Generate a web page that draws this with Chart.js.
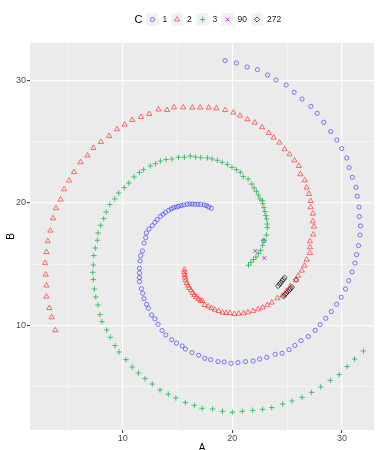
<!DOCTYPE html>
<html><head><meta charset="utf-8">
<script src="https://cdn.jsdelivr.net/npm/chart.js@4"></script>
<style>html,body{margin:0;padding:0;background:#fff;}canvas{display:block}</style>
</head><body>
<canvas id="c" width="379" height="450" style="width:379px;height:450px"></canvas>
<script>
// ---- data ----
const groupNames = ["1", "2", "3", "90", "272"];
const xTicks = [5, 10, 15, 20, 25, 30];
const yTicks = [5, 10, 15, 20, 25, 30];

const s1A = [19.34,20.36,21.35,22.28,23.21,23.99,24.91,25.63,26.35,27.16,27.73,28.33,28.96,29.52,29.97,30.42,30.64,30.93,31.27,31.38,31.54,31.56,31.68,31.63,
31.5,31.32,31.17,30.91,30.6,30.31,29.92,29.5,29.02,28.51,28.0,27.55,26.92,26.26,25.7,25.16,24.53,23.9,23.14,22.49,21.89,21.2,20.51,19.88,19.25,18.69,18.02,17.48,
16.92,16.32,15.72,15.42,14.91,14.47,13.93,13.59,13.23,12.94,12.63,12.34,12.18,11.95,11.82,11.71,11.53,11.53,11.53,11.53,11.59,11.64,11.8,11.95,12.1,
12.16,12.4,12.7,12.94,13.14,13.44,13.68,13.89,14.19,14.43,14.64,14.88,15.09,15.33,15.57,15.87,16.11,16.35,16.59,16.86,17.1,17.43,17.64,17.84,18.09,22.87];
const s1B = [31.64,31.45,31.12,30.9,30.47,30.06,29.65,29.05,28.5,27.9,27.33,26.6,25.84,25.15,24.45,23.68,22.89,22.1,21.28,20.55,19.67,18.89,18.12,17.38,
16.52,15.78,15.09,14.36,13.65,12.97,12.29,11.72,11.12,10.57,10.06,9.59,9.08,8.75,8.36,8.01,7.71,7.63,7.38,7.24,7.08,7.03,6.95,6.89,7.0,7.03,7.19,7.3,
7.55,7.77,8.06,8.31,8.55,8.83,9.21,9.57,10.08,10.52,10.84,11.39,11.72,12.18,12.62,13.0,13.57,13.9,14.28,14.66,15.26,15.7,16.08,16.73,17.17,
17.55,17.87,18.15,18.42,18.64,18.91,19.08,19.24,19.4,19.51,19.62,19.67,19.73,19.79,19.84,19.89,19.92,19.92,19.89,19.89,19.89,19.84,19.79,19.67,19.57,16.9];

const s2A = [3.86,3.53,3.32,3.05,3.05,2.99,2.93,3.05,3.17,
3.41,3.65,3.92,4.34,4.67,5.12,5.57,6.16,6.79,7.33,8.02,8.77,9.49,10.18,10.87,11.68,12.43,13.26,14.04,14.67,15.51,16.35,17.07,
17.84,18.54,19.34,20.09,20.69,21.38,22.04,22.7,23.32,23.77,24.29,24.76,25.21,25.66,26.06,26.2,26.59,26.77,26.98,27.13,27.13,27.34,27.34,27.43,27.37,
27.07,27.07,27.07,26.77,26.56,26.33,25.99,25.79,25.27,24.93,24.58,24.11,23.59,23.18,22.76,22.34,21.89,21.41,21.02,20.58,20.18,19.77,19.43,19.1,18.74,18.38,18.09,17.79,17.48,17.25,
17.1,16.89,16.71,16.53,16.38,16.23,16.08,15.96,15.84,15.75,15.69,15.66,15.63,15.63];
const s2B = [9.59,10.65,11.41,12.35,13.25,14.15,15.09,15.99,16.87,
17.74,18.75,19.57,20.28,21.12,21.83,22.53,23.33,23.88,24.5,24.99,25.48,26.03,26.41,26.79,27.03,27.28,27.64,27.6,27.82,27.82,27.8,27.8,
27.8,27.74,27.6,27.39,27.14,26.84,26.57,26.19,25.72,25.35,24.94,24.39,23.98,23.49,23.03,22.35,21.86,21.26,20.74,20.16,19.65,19.13,18.5,18.07,17.42,
16.87,16.38,15.91,15.37,14.88,14.47,14.06,13.68,13.19,12.8,12.43,12.21,11.86,11.64,11.45,11.31,11.17,11.06,10.98,10.96,10.92,11.01,11.01,11.04,11.17,11.28,11.41,11.55,11.66,11.99,
12.02,12.15,12.31,12.48,12.64,12.86,13.05,13.25,13.46,13.68,13.9,14.11,14.33,14.55];

const s3A = [31.95,31.14,30.46,29.74,28.93,28.06,27.22,26.35,25.43,24.58,23.59,22.76,21.86,20.9,20.0,19.1,18.2,
17.25,16.53,15.72,14.85,14.16,13.41,12.7,12.04,11.44,10.87,10.3,9.67,9.31,8.86,8.54,8.11,7.93,7.75,7.55,7.42,7.33,7.28,7.33,7.37,7.51,7.69,
7.76,8.0,8.27,8.5,8.83,9.28,9.64,10.15,10.57,11.05,11.53,11.91,12.52,12.99,13.44,13.95,14.49,15.09,15.63,16.17,16.65,17.12,
17.73,18.15,18.63,19.07,19.55,19.97,20.36,20.72,20.99,21.44,21.77,21.98,22.19,22.37,22.52,22.73,22.76,22.88,22.96,23.05,23.12,23.18,23.18,23.12,
22.88,22.76,22.58,22.37,22.16,21.92,21.68,21.47];
const s3B = [7.9,7.24,6.62,5.97,5.5,4.96,4.52,4.11,3.81,3.57,3.27,3.13,3.05,2.97,2.89,2.97,3.16,
3.21,3.46,3.68,4.06,4.36,4.71,5.2,5.64,6.1,6.59,7.19,7.82,8.34,9.02,9.62,10.3,10.87,11.66,12.31,12.97,13.74,14.33,14.93,15.7,16.32,16.95,
17.55,18.18,18.72,19.26,19.87,20.33,20.82,21.26,21.64,22.13,22.49,22.73,23.03,23.22,23.43,23.55,23.6,23.74,23.74,23.84,23.76,23.71,
23.68,23.6,23.49,23.33,23.16,22.92,22.73,22.51,22.16,21.96,21.55,21.23,20.96,20.65,20.33,20.2,19.95,19.62,19.3,18.97,18.69,18.28,17.99,17.38,
16.95,16.54,16.13,15.86,15.58,15.37,15.15,14.91];

const s90A = [22.1, 22.91];
const s90B = [16.08, 15.5];

const s272A = [24.17,24.3,24.42,24.53,24.65,24.76,24.67,24.79,24.92,25.06,25.18,25.31,25.43,25.81];
const s272B = [13.21,13.36,13.48,13.63,13.75,13.9,12.37,12.5,12.63,12.75,12.88,13.0,13.13,13.74];

// ---- styles ----
const seriesA = [s1A, s2A, s3A, s90A, s272A];
const seriesB = [s1B, s2B, s3B, s90B, s272B];
const colors = ['rgba(50,50,255,0.62)', 'rgba(255,30,30,0.62)', 'rgba(0,175,60,0.68)', 'rgba(200,0,230,0.8)', 'rgba(0,0,0,0.65)'];
const shapes = ['circle', 'triangle', 'cross', 'crossRot', 'rectRot'];
const radii = [2.1, 3.0, 2.8, 2.6, 2.6];

function zip(a, b) { return a.map((v, i) => ({ x: v, y: b[i] })); }

const datasets = groupNames.map((name, i) => ({
  label: name,
  data: zip(seriesA[i], seriesB[i]),
  pointStyle: shapes[i],
  pointRadius: radii[i],
  pointBorderColor: colors[i],
  pointBackgroundColor: 'rgba(0,0,0,0)',
  pointBorderWidth: 1,
  showLine: false
}));

const FONT = "'Liberation Sans', Arial, sans-serif";

const panelBg = {
  id: 'panelBg',
  beforeDraw(chart) {
    const { ctx, chartArea: a } = chart;
    ctx.save();
    ctx.fillStyle = '#EBEBEB';
    ctx.fillRect(a.left, a.top, a.right - a.left, a.bottom - a.top);
    ctx.restore();
  }
};

const legendPlugin = {
  id: 'ggLegend',
  afterDraw(chart) {
    const ctx = chart.ctx;
    ctx.save();
    ctx.textBaseline = 'middle';
    ctx.fillStyle = '#000';
    ctx.font = '11px ' + FONT;
    ctx.textAlign = 'center';
    const cy = 19.5;
    ctx.fillText('C', 138.5, cy);
    const keyX = [146.5, 171, 196.5, 221.5, 251];
    ctx.font = '8.5px ' + FONT;
    groupNames.forEach((name, i) => {
      const kx = keyX[i];
      ctx.fillStyle = '#F2F2F2';
      ctx.fillRect(kx, 13, 12, 13);
      ctx.strokeStyle = colors[i];
      ctx.fillStyle = 'rgba(0,0,0,0)';
      ctx.lineWidth = 1;
      Chart.helpers.drawPoint(ctx, { pointStyle: shapes[i], radius: radii[i], rotation: 0, borderWidth: 1 }, kx + 6, cy);
      ctx.fillStyle = '#222';
      ctx.textAlign = 'left';
      ctx.fillText(name, kx + 16, cy);
    });
    ctx.restore();
  }
};

function gridColor(ctx) { return ctx.tick && ctx.tick.value % 10 === 0 ? '#FFFFFF' : 'rgba(255,255,255,0.75)'; }
function gridWidth(ctx) { return ctx.tick && ctx.tick.value % 10 === 0 ? 1.2 : 0.6; }
function tickColor(ctx) { return ctx.tick && ctx.tick.value % 10 === 0 ? '#333333' : 'rgba(0,0,0,0)'; }

new Chart(document.getElementById('c'), {
  type: 'scatter',
  data: { datasets },
  plugins: [panelBg, legendPlugin],
  options: {
    responsive: false,
    animation: false,
    devicePixelRatio: 1,
    layout: { padding: { top: 42.7, left: 0, right: 0, bottom: 0 } },
    plugins: { legend: { display: false }, tooltip: { enabled: false } },
    scales: {
      x: {
        type: 'linear', min: 1.554, max: 32.91,
        afterBuildTicks: s => { s.ticks = xTicks.map(v => ({ value: v })); },
        afterFit: s => { s.height = 20; },
        border: { display: false },
        grid: { color: gridColor, lineWidth: gridWidth, tickColor: tickColor, tickLength: 3, tickWidth: 1 },
        ticks: { padding: 0, color: '#4D4D4D', font: { family: FONT, size: 9 }, maxRotation: 0, autoSkip: false,
                 callback: v => (v % 10 === 0 ? String(v) : '') },
        title: { display: true, text: 'A', color: '#000', font: { family: FONT, size: 10, lineHeight: 1 }, padding: { top: 0, bottom: -3 } }
      },
      y: {
        type: 'linear', min: 1.439, max: 33.107,
        afterBuildTicks: s => { s.ticks = yTicks.map(v => ({ value: v })); },
        afterFit: s => { s.width = 30; },
        border: { display: false },
        grid: { color: gridColor, lineWidth: gridWidth, tickColor: tickColor, tickLength: 3, tickWidth: 1 },
        ticks: { padding: 1, color: '#4D4D4D', font: { family: FONT, size: 9 }, autoSkip: false,
                 callback: v => (v % 10 === 0 ? String(v) : '') },
        title: { display: true, text: 'B', color: '#000', font: { family: FONT, size: 10, lineHeight: 1 }, padding: { top: 6, bottom: 0 } }
      }
    }
  }
});
</script>
</body></html>
